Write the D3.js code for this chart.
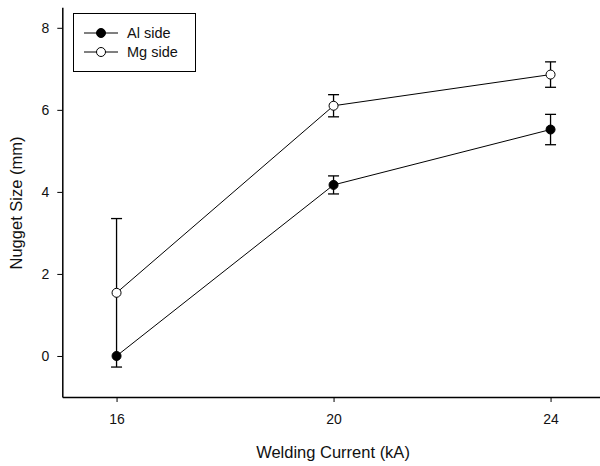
<!DOCTYPE html>
<html>
<head>
<meta charset="utf-8">
<script src="https://cdn.jsdelivr.net/npm/d3@7"></script>
<style>
  html, body { margin: 0; padding: 0; background: #fff; }
  svg { display: block; font-family: "Liberation Sans", Arial, sans-serif; }
</style>
</head>
<body>
<svg id="chart" width="600" height="466"></svg>
<script>
// data
const currents = [16, 20, 24];
const alSide = [0.0, 4.17, 5.52];
const alErr = [0, 0.22, 0.37];
const mgSide = [1.54, 6.1, 6.86];
const mgErr = [1.81, 0.27, 0.31];
const xTicks = [16, 20, 24];
const yTicks = [0, 2, 4, 6, 8];

const svg = d3.select("#chart");

const x = d3.scaleLinear().domain([15, 25]).range([62.3, 604.8]);
const y = d3.scaleLinear().domain([-1, 8.5]).range([397, 7.3]);

// axes: only left and bottom lines
const xAxis = svg.append("g").attr("transform", "translate(0,397)")
  .call(d3.axisBottom(x).tickValues(xTicks).tickSize(5).tickPadding(12).tickSizeOuter(0));
const yAxis = svg.append("g").attr("transform", "translate(62.3,0)")
  .call(d3.axisLeft(y).tickValues(yTicks).tickSize(5).tickPadding(8).tickSizeOuter(0));

[xAxis, yAxis].forEach(g => {
  g.select(".domain").attr("stroke", "#000").attr("stroke-width", 1.5);
  g.selectAll(".tick line").attr("stroke", "#000").attr("stroke-width", 1);
  g.selectAll(".tick text").attr("fill", "#111").style("font-size", "14px")
    .style("font-family", "'Liberation Sans', Arial, sans-serif");
});

svg.append("text")
  .attr("x", 333).attr("y", 458)
  .attr("text-anchor", "middle")
  .style("font-size", "16.5px").attr("fill", "#111")
  .text("Welding Current (kA)");

svg.append("text")
  .attr("transform", "translate(22,203) rotate(-90)")
  .attr("text-anchor", "middle")
  .style("font-size", "16.5px").attr("fill", "#111")
  .text("Nugget Size (mm)");

const series = [
  { name: "Al side", vals: alSide, err: alErr, fill: "#000" },
  { name: "Mg side", vals: mgSide, err: mgErr, fill: "#fff" }
];

const line = d3.line().x((d, i) => x(currents[i])).y(d => y(d));

series.forEach(s => {
  const g = svg.append("g");
  // error bars
  s.vals.forEach((v, i) => {
    if (!s.err[i]) return;
    const cx = x(currents[i]);
    const lo = y(v - s.err[i]), hi = y(v + s.err[i]);
    g.append("line").attr("x1", cx).attr("x2", cx).attr("y1", lo).attr("y2", hi)
      .attr("stroke", "#000").attr("stroke-width", 1.3);
    [lo, hi].forEach(yy => g.append("line")
      .attr("x1", cx - 5.5).attr("x2", cx + 5.5).attr("y1", yy).attr("y2", yy)
      .attr("stroke", "#000").attr("stroke-width", 1.3));
  });
  g.append("path").datum(s.vals).attr("d", line)
    .attr("fill", "none").attr("stroke", "#000").attr("stroke-width", 1);
  g.selectAll("circle").data(s.vals).join("circle")
    .attr("cx", (d, i) => x(currents[i])).attr("cy", d => y(d))
    .attr("r", 4.5).attr("fill", s.fill).attr("stroke", "#000").attr("stroke-width", 1);
});

// legend
const lg = svg.append("g");
lg.append("rect").attr("x", 73.5).attr("y", 13.5).attr("width", 122).attr("height", 58)
  .attr("fill", "#fff").attr("stroke", "#000").attr("stroke-width", 1);
series.forEach((s, i) => {
  const yy = 33 + i * 19;
  lg.append("line").attr("x1", 84).attr("x2", 118).attr("y1", yy).attr("y2", yy)
    .attr("stroke", "#000").attr("stroke-width", 1);
  lg.append("circle").attr("cx", 101).attr("cy", yy).attr("r", 4.5)
    .attr("fill", s.fill).attr("stroke", "#000").attr("stroke-width", 1);
  lg.append("text").attr("x", 127).attr("y", yy + 5)
    .style("font-size", "14.5px").attr("fill", "#111").text(s.name);
});
</script>
</body>
</html>
